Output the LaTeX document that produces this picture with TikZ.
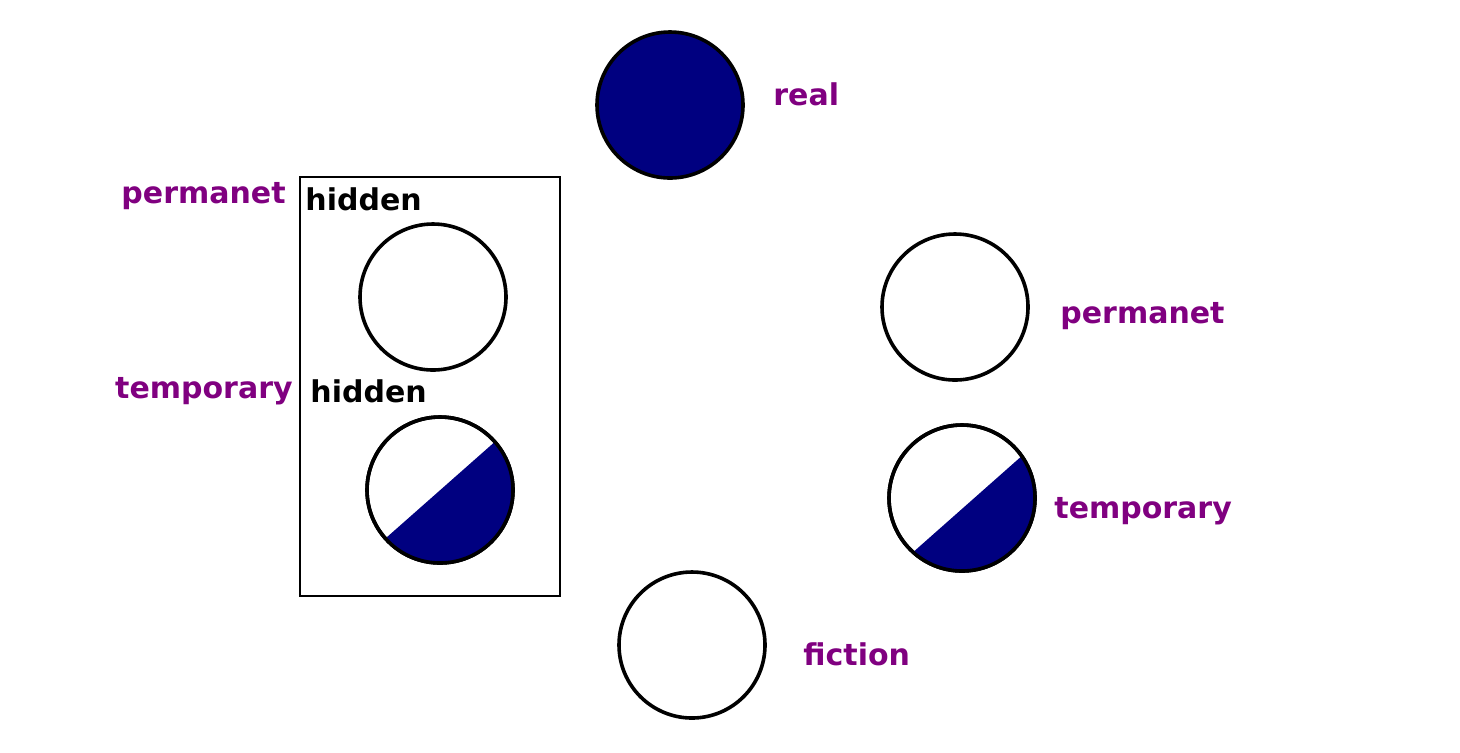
\documentclass[tikz,border=0pt]{standalone}
\usepackage{fontspec}
\usetikzlibrary{calc}
\setmainfont{DejaVu Sans}
\definecolor{navy}{HTML}{000080}
\definecolor{lab}{HTML}{800080}
\begin{document}
\begin{tikzpicture}[x=0.5pt,y=-0.5pt,
  circ/.style={circle,draw,line width=1.8pt,minimum size=73pt,inner sep=0pt},
  lbl/.style={text=lab,font=\bfseries\fontsize{15}{17}\selectfont,inner sep=0pt},
  hid/.style={text=black,font=\bfseries\fontsize{15}{17}\selectfont,inner sep=0pt,anchor=west}]
\useasboundingbox (0,0) rectangle (1460,752);
\node[draw,line width=0.8pt,minimum width=130pt,minimum height=209.5pt,inner sep=0pt] (box) at (430,386.5) {};
\node[circ,fill=navy] (real) at (670,105) {};
\node[circ] (h1) at (433,297) {};
\node[circ] (h2) at (440,490) {};
\node[circ] (p) at (955,307) {};
\node[circ] (t) at (962,498) {};
\node[circ] (f) at (692,645) {};
\fill[navy] ($(h2.center)+(-41.3:72)$) arc[start angle=-41.3,end angle=138.4,radius=72] -- cycle;
\fill[navy] ($(t.center)+(-35:72)$) arc[start angle=-35,end angle=132,radius=72] -- cycle;
\draw[line width=1.8pt] (h2) circle[radius=73];
\draw[line width=1.8pt] (t) circle[radius=73];
\node[lbl,anchor=west] (lr) at (773,94) {real};
\node[lbl,anchor=east] (lp1) at (286,196) {permanet};
\node[hid] (hd1) at (305,199) {hidden};
\node[lbl,anchor=east] (lt1) at (293,391) {temporary};
\node[hid] (hd2) at (310,391) {hidden};
\node[lbl,anchor=west] (lp2) at (1060,316) {permanet};
\node[lbl,anchor=west] (lt2) at (1054,511) {temporary};
\node[lbl,anchor=west] (lf) at (803,654) {fiction};
\end{tikzpicture}
\end{document}
